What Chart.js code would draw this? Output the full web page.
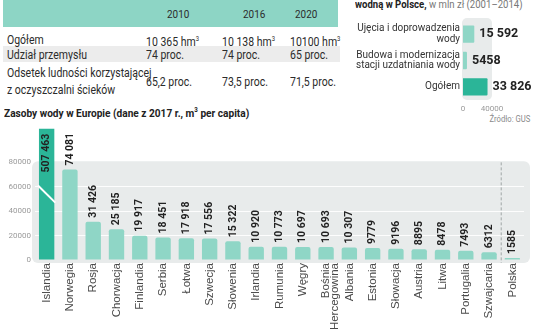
<!DOCTYPE html>
<html>
<head>
<meta charset="utf-8">
<script src="https://cdn.jsdelivr.net/npm/chart.js@4/dist/chart.umd.min.js"></script>
<style>
  html, body { margin: 0; padding: 0; background: #fff; }
  body { width: 536px; height: 332px; position: relative; overflow: hidden;
         font-family: 'Roboto', sans-serif; color: #2b2b2b; }
  .abs { position: absolute; white-space: nowrap; transform-origin: 0 50%; }
  #thead { left: 3px; top: 0; width: 335px; height: 27px; background: #8dd5c5; }
  #row2 { left: 3px; top: 46px; width: 337px; height: 16px; background: #ececec; }
  .cell { font-size: 12.5px; line-height: 13px; transform: scaleX(0.84); }
  .yr { font-size: 11px; transform: scaleX(0.9); }
  #ttl2 { left: 355px; top: -2px; font-size: 11px; transform: scaleX(0.87); }
  #ttl2 b { color: #222; }
  #ttl2 span { color: #777; }
  #src { right: 6px; top: 114px; font-size: 8.5px; color: #8a8a8a; transform-origin: 100% 50%; transform: scaleX(0.9); }
  #ttl { left: 4px; top: 106px; font-size: 11.5px; font-weight: bold; color: #222; transform: scaleX(0.88); }
  sup { font-size: 7px; }
</style>
</head>
<body>
<div id="thead" class="abs"></div>
<div id="row2" class="abs"></div>

<div class="abs cell yr" style="left:167px;top:8px">2010</div>
<div class="abs cell yr" style="left:243px;top:8px">2016</div>
<div class="abs cell yr" style="left:295px;top:8px">2020</div>

<div class="abs cell" style="left:7px;top:33px">Ogółem</div>
<div class="abs cell" style="left:146px;top:33px">10 365 hm<sup>3</sup></div>
<div class="abs cell" style="left:222px;top:33px">10 138 hm<sup>3</sup></div>
<div class="abs cell" style="left:290px;top:33px">10100 hm<sup>3</sup></div>

<div class="abs cell" style="left:7px;top:48px">Udział przemysłu</div>
<div class="abs cell" style="left:146px;top:48px">74 proc.</div>
<div class="abs cell" style="left:222px;top:48px">74 proc.</div>
<div class="abs cell" style="left:290px;top:48px">65 proc.</div>

<div class="abs cell" style="left:7px;top:66px">Odsetek ludności korzystającej</div>
<div class="abs cell" style="left:7px;top:83px">z oczyszczalni ścieków</div>
<div class="abs cell" style="left:146px;top:75px">65,2 proc.</div>
<div class="abs cell" style="left:222px;top:75px">73,5 proc.</div>
<div class="abs cell" style="left:290px;top:75px">71,5 proc.</div>

<div id="ttl2" class="abs"><b>wodną w Polsce,</b> <span>w mln zł (2001–2014)</span></div>
<div id="src" class="abs">Źródło: GUS</div>
<div id="ttl" class="abs">Zasoby wody w Europie (dane z 2017 r., m<sup>3</sup> per capita)</div>

<div class="abs" style="left:340px;top:11px;width:196px;height:110px"><canvas id="invCanvas"></canvas></div>
<div class="abs" style="left:0;top:120px;width:536px;height:212px"><canvas id="waterCanvas"></canvas></div>

<script>
// nakłady na gospodarkę wodną w Polsce (mln zł)
const invLabels = [['Ujęcia i doprowadzenia', 'wody'], ['Budowa i modernizacja', 'stacji uzdatniania wody'], 'Ogółem'];
const invValues = [15592, 5458, 33826];
const invTicks = [0, 40000];

// zasoby wody w Europie 2017, m3 per capita
const countries = ['Islandia', 'Norwegia', 'Rosja', 'Chorwacja', 'Finlandia', 'Serbia', 'Łotwa', 'Szwecja',
  'Słowenia', 'Irlandia', 'Rumunia', 'Węgry', ['Bośnia', 'i Hercegowina'], 'Albania', 'Estonia', 'Słowacja',
  'Austria', 'Litwa', 'Portugalia', 'Szwajcaria', 'Polska'];
const waterValues = [507463, 74081, 31426, 25185, 19917, 18451, 17918, 17556, 15322, 10920, 10773, 10697,
  10693, 10307, 9779, 9196, 8895, 8478, 7493, 6312, 1585];
const waterTicks = [0, 20000, 40000, 60000, 80000];

const DARK = '#2bb598';
const LIGHT = '#8fd6c6';
const NUM_FONT = "'Roboto', sans-serif";

function fmt(v) {
    if (v < 10000) return String(v);
    return String(v).replace(/\B(?=(\d{3})+(?!\d))/g, ' ');
}

// tło wykresu, wartości, linia przerwana
const waterDeco = {
    id: 'waterDeco',
    beforeDraw(chart) {
        const { ctx, chartArea: a, scales: { y } } = chart;
        ctx.save();
        ctx.fillStyle = '#e8ebeb';
        ctx.beginPath();
        const top = y.getPixelForValue(80000) - 1;
        ctx.roundRect(a.left - 3, top, a.right + 6 - (a.left - 3), y.getPixelForValue(0) + 3 - top, 6);
        ctx.fill();
        ctx.restore();
    },
    afterDatasetsDraw(chart) {
        const { ctx, chartArea: a, scales: { y } } = chart;
        const bars = chart.getDatasetMeta(0).data;
        ctx.save();
        // przerwanie słupka Islandii
        const b0 = bars[0];
        ctx.strokeStyle = '#fff';
        ctx.lineWidth = 2;
        ctx.beginPath();
        ctx.moveTo(b0.x - b0.width / 2 - 1, y.getPixelForValue(61000));
        ctx.lineTo(b0.x + b0.width / 2 + 1, y.getPixelForValue(47000));
        ctx.stroke();

        // linia przed Polską
        const xs = (bars[bars.length - 2].x + bars[bars.length - 1].x) / 2;
        ctx.strokeStyle = '#a0a6a6';
        ctx.lineWidth = 1;
        ctx.setLineDash([3, 2]);
        ctx.beginPath();
        ctx.moveTo(xs + 0.5, y.getPixelForValue(80000));
        ctx.lineTo(xs + 0.5, y.getPixelForValue(0) + 3);
        ctx.stroke();
        ctx.setLineDash([]);

        // etykiety wartości
        ctx.fillStyle = '#222';
        ctx.font = 'bold 10.5px ' + NUM_FONT;
        ctx.textBaseline = 'middle';
        bars.forEach((bar, i) => {
            const v = waterValues[i];
            ctx.save();
            if (v > y.max) {
                ctx.translate(bar.x, a.top + 5);
                ctx.rotate(-Math.PI / 2);
                ctx.textAlign = 'right';
            } else {
                ctx.translate(bar.x, bar.y - 4);
                ctx.rotate(-Math.PI / 2);
                ctx.textAlign = 'left';
            }
            ctx.fillText(fmt(v), 0, 0);
            ctx.restore();
        });
        ctx.restore();
    }
};

new Chart(document.getElementById('waterCanvas').getContext('2d'), {
    type: 'bar',
    data: {
        labels: countries,
        datasets: [{
            data: waterValues,
            backgroundColor: waterValues.map((v, i) => i === 0 ? DARK : LIGHT),
            borderRadius: 2,
            borderSkipped: 'bottom',
            barPercentage: 0.66,
            categoryPercentage: 1
        }]
    },
    options: {
        responsive: true,
        maintainAspectRatio: false,
        animation: false,
        layout: { padding: { top: 7, right: 12, left: 0, bottom: 0 } },
        plugins: { legend: { display: false }, tooltip: { enabled: false } },
        scales: {
            x: {
                grid: { display: false, drawTicks: false },
                border: { display: false },
                ticks: {
                    autoSkip: false,
                    minRotation: 90,
                    maxRotation: 90,
                    padding: 3,
                    color: '#4a4a4a',
                    font: { family: "'Liberation Sans', Arial, sans-serif", size: 11.5, lineHeight: 0.8 }
                },
                afterFit(scale) { scale.height = 72; }
            },
            y: {
                min: 0,
                max: 107500,
                afterBuildTicks(scale) { scale.ticks = waterTicks.map(v => ({ value: v })); },
                grid: {
                    drawTicks: false,
                    color: ctx => (ctx.tick && ctx.tick.value > 0 && ctx.tick.value < 80000) ? 'rgba(255,255,255,0.9)' : 'rgba(0,0,0,0)'
                },
                border: { display: false },
                ticks: {
                    padding: 4,
                    color: '#9a9a9a',
                    font: { family: NUM_FONT, size: 8 },
                    callback: v => String(v)
                },
                afterFit(scale) { scale.width = 35; }
            }
        }
    },
    plugins: [waterDeco]
});

// mały wykres poziomy
const invDeco = {
    id: 'invDeco',
    beforeDraw(chart) {
        const { ctx, chartArea: a } = chart;
        ctx.save();
        ctx.fillStyle = '#e8ebeb';
        ctx.beginPath();
        ctx.roundRect(a.left - 1, a.top - 3, a.right - a.left + 1, a.bottom - a.top + 3, 5);
        ctx.fill();
        ctx.restore();
    },
    afterDatasetsDraw(chart) {
        const { ctx } = chart;
        ctx.save();
        ctx.fillStyle = '#222';
        ctx.font = 'bold 12.5px ' + NUM_FONT;
        ctx.textBaseline = 'middle';
        ctx.textAlign = 'left';
        chart.getDatasetMeta(0).data.forEach((bar, i) => {
            ctx.fillText(fmt(invValues[i]), bar.x + 5, bar.y);
        });
        ctx.restore();
    }
};

new Chart(document.getElementById('invCanvas').getContext('2d'), {
    type: 'bar',
    data: {
        labels: invLabels,
        datasets: [{
            data: invValues,
            backgroundColor: invValues.map((v, i) => i === 2 ? DARK : LIGHT),
            borderRadius: 1,
            barPercentage: 0.66,
            categoryPercentage: 1
        }]
    },
    options: {
        indexAxis: 'y',
        responsive: true,
        maintainAspectRatio: false,
        animation: false,
        layout: { padding: { top: 10, right: 44, left: 0, bottom: 0 } },
        plugins: { legend: { display: false }, tooltip: { enabled: false } },
        scales: {
            x: {
                min: 0,
                max: 40000,
                afterBuildTicks(scale) { scale.ticks = invTicks.map(v => ({ value: v })); },
                grid: { display: false, drawTicks: false },
                border: { display: false },
                ticks: {
                    padding: 4,
                    color: '#9a9a9a',
                    font: { family: NUM_FONT, size: 8 },
                    callback: v => String(v)
                },
                afterFit(scale) { scale.height = 21; }
            },
            y: {
                grid: { display: false, drawTicks: false },
                border: { display: false },
                ticks: {
                    padding: 3,
                    color: '#333',
                    font: { family: "'Roboto', sans-serif", size: 10, lineHeight: 1.05 }
                },
                afterFit(scale) { scale.width = 123; }
            }
        }
    },
    plugins: [invDeco]
});
</script>
</body>
</html>
